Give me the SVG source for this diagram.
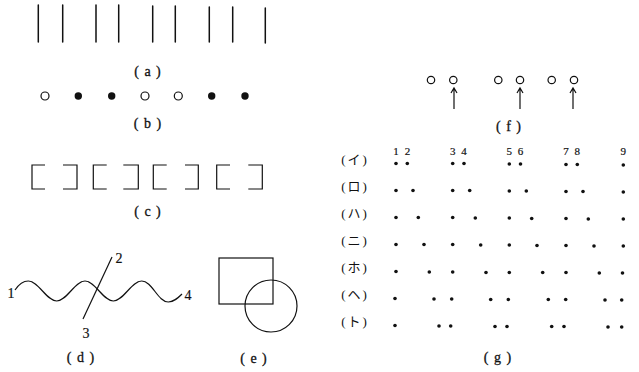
<svg xmlns="http://www.w3.org/2000/svg" width="639" height="372" viewBox="0 0 639 372">
<style>
.ln{stroke:#111;stroke-width:1.5;fill:none;stroke-linecap:round}
.th{stroke:#111;stroke-width:1.2;fill:none}
.lbl{font-family:"Liberation Serif","DejaVu Serif",serif;font-size:14px;fill:#111;stroke:#111;stroke-width:0.3;text-anchor:middle;letter-spacing:1px}
.num{font-family:"Liberation Serif","DejaVu Serif",serif;font-size:14px;fill:#111;stroke:#111;stroke-width:0.2;text-anchor:middle}
.sn{font-family:"Liberation Serif","DejaVu Serif",serif;font-size:11px;fill:#111;stroke:#111;stroke-width:0.2;text-anchor:middle}
.kl{font-family:"Liberation Serif","Noto Sans CJK JP",serif;font-size:13px;fill:#111;text-anchor:middle;letter-spacing:2px}
.dot{fill:#111}
</style>
<rect width="639" height="372" fill="#fff"/>

<g id="a">
<path class="ln" d="M38.3,5V42M62.7,5V42M96,5V42M118.7,5V42M152.7,6V42M175.3,6V42M209.3,7V42M232.7,7V42M265.3,8V43"/>
<text class="lbl" x="148" y="76">( a )</text>
</g>

<g id="b">
<circle class="th" cx="45" cy="96" r="4"/>
<circle class="dot" cx="78.3" cy="96" r="3.7"/>
<circle class="dot" cx="111.7" cy="96" r="3.7"/>
<circle class="th" cx="145" cy="96" r="4"/>
<circle class="th" cx="178.3" cy="96" r="4"/>
<circle class="dot" cx="211.7" cy="96" r="3.7"/>
<circle class="dot" cx="245" cy="96" r="3.7"/>
<text class="lbl" x="148" y="128">( b )</text>
</g>

<g id="c">
<path class="th" d="M45,165H32V189H45M63,165H77V189H63M106.7,165H93.3V189H106.7M123.3,165H138.3V189H123.3M166.7,165H153.3V189H166.7M185,165H198.3V189H185M230,165H216.7V189H230M248.3,165H262.3V189H248.3"/>
<text class="lbl" x="148" y="216">( c )</text>
</g>

<g id="d">
<path class="th" d="M15,290C19,284 23,281 28.3,281C38.6,281 46.4,301 56.7,301C67,301 74.7,281 85,281C95.3,281 103,301 113.3,301C123.6,301 131.4,281 141.7,281C152,281 158,302 168.3,302C174,302 178,298 182,294"/>
<path class="th" d="M112,257L83,319"/>
<text class="num" x="11" y="298">1</text>
<text class="num" x="119" y="263">2</text>
<text class="num" x="86" y="338">3</text>
<text class="num" x="188" y="300">4</text>
<text class="lbl" x="81" y="362">( d )</text>
</g>

<g id="e">
<rect class="th" x="219" y="258" width="54" height="46"/>
<circle class="th" cx="271" cy="306" r="26"/>
<text class="lbl" x="254" y="363">( e )</text>
</g>

<g id="f">
<circle class="th" cx="431" cy="80" r="3.7"/>
<circle class="th" cx="453.3" cy="80" r="3.7"/>
<circle class="th" cx="498.3" cy="80" r="3.7"/>
<circle class="th" cx="520" cy="80" r="3.7"/>
<circle class="th" cx="551.7" cy="80" r="3.7"/>
<circle class="th" cx="574" cy="80" r="3.7"/>
<text class="lbl" x="509" y="131">( f )</text>
</g>

<g id="connectors">
<path class="th" d="M454,109V88M451,93L454,88L457,93"/>
<path class="th" d="M520,109V88M517,93L520,88L523,93"/>
<path class="th" d="M573,109V88M570,93L573,88L576,93"/>
</g>

<g id="g">
<text class="kl" x="355" y="164">(イ)</text>
<text class="kl" x="355" y="191">(ロ)</text>
<text class="kl" x="355" y="218">(ハ)</text>
<text class="kl" x="355" y="245">(ニ)</text>
<text class="kl" x="355" y="272">(ホ)</text>
<text class="kl" x="355" y="299">(ヘ)</text>
<text class="kl" x="355" y="326">(ト)</text>
<text class="sn" x="396" y="155">1</text><text class="sn" x="407.5" y="155">2</text>
<text class="sn" x="452.7" y="155">3</text><text class="sn" x="464" y="155">4</text>
<text class="sn" x="509.3" y="155">5</text><text class="sn" x="520.5" y="155">6</text>
<text class="sn" x="566" y="155">7</text><text class="sn" x="577.3" y="155">8</text>
<text class="sn" x="623.3" y="155">9</text>
<g class="dot">
<circle cx="396" cy="163.5" r="1.8"/><circle cx="407.3" cy="163.5" r="1.8"/><circle cx="452.7" cy="163.5" r="1.8"/><circle cx="464" cy="163.5" r="1.8"/><circle cx="509.3" cy="164" r="1.8"/><circle cx="520.5" cy="164" r="1.8"/><circle cx="566" cy="164.5" r="1.8"/><circle cx="577.3" cy="164.5" r="1.8"/><circle cx="623.3" cy="165" r="1.8"/>
<circle cx="396" cy="190.5" r="1.8"/><circle cx="413" cy="190.5" r="1.8"/><circle cx="452.7" cy="190.5" r="1.8"/><circle cx="469.7" cy="190.5" r="1.8"/><circle cx="509.3" cy="191" r="1.8"/><circle cx="526.3" cy="191" r="1.8"/><circle cx="566" cy="191.5" r="1.8"/><circle cx="583" cy="191.5" r="1.8"/><circle cx="623.3" cy="192" r="1.8"/>
<circle cx="396" cy="217.5" r="1.8"/><circle cx="418.3" cy="217.5" r="1.8"/><circle cx="452.7" cy="217.5" r="1.8"/><circle cx="475.3" cy="218" r="1.8"/><circle cx="509.3" cy="218" r="1.8"/><circle cx="531.7" cy="218.5" r="1.8"/><circle cx="566" cy="218.5" r="1.8"/><circle cx="588.3" cy="219" r="1.8"/><circle cx="623.3" cy="219" r="1.8"/>
<circle cx="396" cy="244.5" r="1.8"/><circle cx="424" cy="244.5" r="1.8"/><circle cx="452.7" cy="244.5" r="1.8"/><circle cx="480.7" cy="245" r="1.8"/><circle cx="509.3" cy="245" r="1.8"/><circle cx="537" cy="245.5" r="1.8"/><circle cx="566" cy="245.5" r="1.8"/><circle cx="594" cy="246" r="1.8"/><circle cx="623.3" cy="246" r="1.8"/>
<circle cx="396" cy="271.5" r="1.8"/><circle cx="429.3" cy="272" r="1.8"/><circle cx="452.7" cy="272" r="1.8"/><circle cx="486" cy="272.5" r="1.8"/><circle cx="509.3" cy="272.5" r="1.8"/><circle cx="542.7" cy="272.5" r="1.8"/><circle cx="566" cy="272.5" r="1.8"/><circle cx="599.3" cy="273" r="1.8"/><circle cx="622.5" cy="273" r="1.8"/>
<circle cx="395" cy="298.5" r="1.8"/><circle cx="434" cy="299" r="1.8"/><circle cx="451.7" cy="299" r="1.8"/><circle cx="490.7" cy="299.5" r="1.8"/><circle cx="508.3" cy="299.5" r="1.8"/><circle cx="548.3" cy="299.5" r="1.8"/><circle cx="565.7" cy="299.5" r="1.8"/><circle cx="605" cy="300" r="1.8"/><circle cx="621.7" cy="300" r="1.8"/>
<circle cx="395" cy="325.5" r="1.8"/><circle cx="439" cy="326" r="1.8"/><circle cx="450.7" cy="326" r="1.8"/><circle cx="495" cy="326.5" r="1.8"/><circle cx="507" cy="326.5" r="1.8"/><circle cx="551.7" cy="326.5" r="1.8"/><circle cx="564" cy="326.5" r="1.8"/><circle cx="608" cy="327" r="1.8"/><circle cx="621.7" cy="327" r="1.8"/>
</g>
<text class="lbl" x="498" y="362">( g )</text>
</g>
</svg>
